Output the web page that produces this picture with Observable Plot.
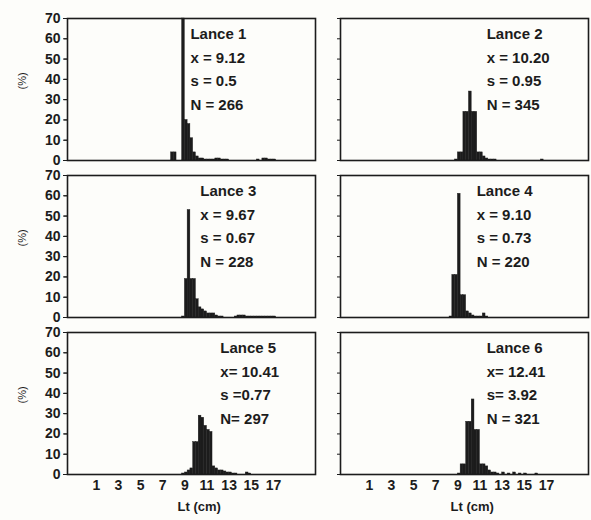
<!DOCTYPE html>
<html><head><meta charset="utf-8">
<script src="https://cdn.jsdelivr.net/npm/d3@7"></script>
<script src="https://cdn.jsdelivr.net/npm/@observablehq/plot@0.6"></script>
<style>
html,body{margin:0;padding:0;background:#fdfdfa;}
#chart{position:absolute;left:0;top:0;}
</style></head><body><div id="chart"></div>
<script>
// Length bins (lower edge, cm); each bin is 0.25 cm wide
const binStarts = [7.75, 8.0, 8.25, 8.5, 8.75, 9.0, 9.25, 9.5, 9.75, 10.0, 10.25, 10.5, 10.75, 11.0, 11.25, 11.5, 11.75, 12.0, 12.25, 12.5, 12.75, 13.0, 13.25, 13.5, 13.75, 14.0, 14.25, 14.5, 14.75, 15.0, 15.25, 15.5, 15.75, 16.0, 16.25, 16.5, 16.75, 17.0];
const binWidth = 0.25;

// Percentages per haul (Lance)
const lance1 = [4,4,0,0,70, 20,18,11,4,2, 1,1,0.5,0.5,0.5, 0.5,1,1,0.5,0.5, 0.5,0,0,0,0, 0,0,0,0,0, 0,0.5,0,1,1, 0.5,0.5,0.5];
const lance2 = [0,0,0,0,0.5, 4,4,24,24,34, 24,24,4,4,2, 1,0.5,0.5,0.5,0, 0,0,0,0,0, 0,0,0,0,0, 0,0,0,0,0, 0.5,0,0];
const lance3 = [0,0,0,0,0.5, 19,53,19,19,9, 5,4,3,2,2, 2,1,0.5,0.5,0, 0,0,0,0.5,1, 1,1,0.5,0.5,0.5, 0.5,0.5,0.5,0.5,0.5, 0.5,0.5,0.5];
const lance4 = [0,0,0.5,21,21, 61,11,11,3,2, 1,0.5,0.5,0.5,2, 0.5,0,0,0,0, 0,0,0,0,0, 0,0,0,0,0, 0,0,0,0,0, 0,0,0];
const lance5 = [0,0,0,0,0.5, 1,2,3,16,16, 29,28,24,22,21, 4,3,2,2,1.5, 1,1,0.5,0.5,0, 0,0,1,0.5,0, 0,0,0,0,0, 0,0,0];
const lance6 = [0,0,0,0,0, 0.5,5,5,26,26, 37,22,22,5,5, 4,2,1,1,0.5, 0,1,0,0.5,0, 1,0,0.5,0,0.5, 0,0,0,0.5,0, 0,0,0];
const series = [lance1, lance2, lance3, lance4, lance5, lance6];

// Panel annotations
const lanceNames = ["Lance 1", "Lance 2", "Lance 3", "Lance 4", "Lance 5", "Lance 6"];
const meanTexts  = ["x = 9.12", "x = 10.20", "x = 9.67", "x = 9.10", "x= 10.41", "x= 12.41"];
const sdTexts    = ["s = 0.5", "s = 0.95", "s = 0.67", "s = 0.73", "s =0.77", "s= 3.92"];
const nTexts     = ["N = 266", "N = 345", "N = 228", "N = 220", "N= 297", "N = 321"];
const labelX     = [9.5, 11.6, 10.4, 10.7, 12.2, 11.6];   // annotation x (cm)
const lineY      = [62.5, 50.5, 39, 27.5];                // annotation line positions (%)

// Axis ticks
const yTicks = [0, 10, 20, 30, 40, 50, 60, 70];
const xTicks = [1, 3, 5, 7, 9, 11, 13, 15, 17];
const yLabel = "(%)";
const xLabel = "Lt (cm)";

// Build tables
const bars = [];
series.forEach((vals, i) => {
  vals.forEach((v, j) => {
    if (v > 0) bars.push({col: i % 2, row: Math.floor(i / 2), len: binStarts[j], pct: v});
  });
});
const notes = [];
lanceNames.forEach((name, i) => {
  [name, meanTexts[i], sdTexts[i], nTexts[i]].forEach((t, k) => {
    notes.push({col: i % 2, row: Math.floor(i / 2), x: labelX[i], y: lineY[k], text: t});
  });
});
const rowLabels = [0, 1, 2].map(r => ({col: 0, row: r, y: 35, text: yLabel}));
const colLabels = [0, 1].map(c => ({col: c, row: 2, x: 10.3, text: xLabel}));

const ink = "#1c1c1c";
const chart = Plot.plot({
  width: 591,
  height: 520,
  marginLeft: 67,
  marginRight: 3,
  marginTop: 17,
  marginBottom: 44,
  style: {fontFamily: "'Liberation Sans', Arial, sans-serif", background: "transparent", color: ink},
  fx: {domain: [0, 1], axis: null, paddingInner: 0.0916, paddingOuter: 0},
  fy: {domain: [0, 1, 2], axis: null, paddingInner: 0.0949, paddingOuter: 0},
  x: {domain: [-1.6, 20.8]},
  y: {domain: [0, 70]},
  marks: [
    Plot.rectY(bars, {fx: "col", fy: "row", x1: "len", x2: d => d.len + binWidth, y: "pct", fill: ink, stroke: ink, strokeWidth: 0.4}),
    Plot.frame({stroke: ink, strokeWidth: 1.6}),
    Plot.axisY({ticks: yTicks, tickSize: 4, tickPadding: 3, fontSize: 14, fontWeight: "bold", label: null, stroke: ink}),
    Plot.axisY({ticks: yTicks, tickSize: 3, text: null, label: null, facetAnchor: null, anchor: "left", stroke: ink}),
    Plot.axisX({ticks: xTicks, tickSize: 0, tickPadding: 6, fontSize: 14, fontWeight: "bold", label: null}),
    Plot.text(notes, {fx: "col", fy: "row", x: "x", y: "y", text: "text", textAnchor: "start", fontSize: 15, fontWeight: "bold", fill: ink}),
    Plot.text(rowLabels, {fx: "col", fy: "row", y: "y", text: "text", frameAnchor: "left", dx: -45, rotate: -90, fontSize: 11, fill: ink}),
    Plot.text(colLabels, {fx: "col", fy: "row", x: "x", text: "text", frameAnchor: "bottom", dy: 36, fontSize: 13, fontWeight: "bold", fill: ink})
  ]
});
document.getElementById("chart").appendChild(chart);
</script>
</body></html>
